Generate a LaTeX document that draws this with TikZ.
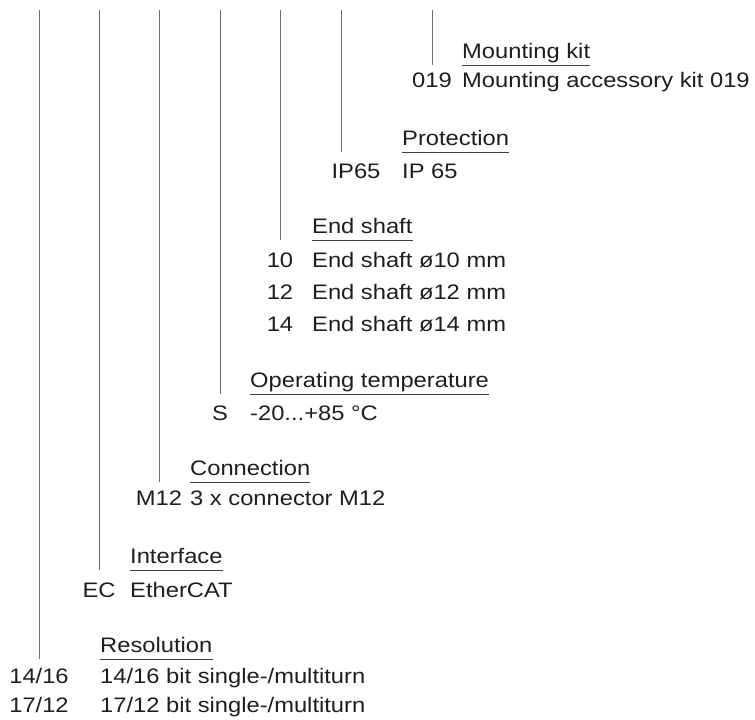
\documentclass[tikz,border=0pt]{standalone}
\usepackage{fontspec}
\setmainfont{Liberation Sans}[FakeStretch=1.13]
\usepackage{xcolor}
\definecolor{leadgray}{RGB}{110,110,110}
\definecolor{rulegray}{RGB}{60,60,60}
\definecolor{textdark}{RGB}{30,30,30}
\usetikzlibrary{positioning}
\tikzset{
  head/.style={anchor=base west, inner sep=0pt, text depth=7pt, text=textdark},
  desc/.style={anchor=base west, inner sep=0pt, text=textdark},
  code/.style={anchor=base, inner sep=0pt, text=textdark},
  lead/.style={draw=leadgray, line width=0.9pt},
  hrule/.style={draw=rulegray, line width=0.9pt}
}
\begin{document}
\begin{tikzpicture}[x=1pt, y=-1pt, font=\fontsize{21}{25}\selectfont]
  \useasboundingbox (0,0) rectangle (755,720);
  % tops of the lead lines
  \coordinate (tres) at (39,10);
  \coordinate (tint) at (99,10);
  \coordinate (tcon) at (159,10);
  \coordinate (ttmp) at (220,10);
  \coordinate (tsft) at (280,10);
  \coordinate (tprt) at (341,10);
  \coordinate (tkit) at (432,10);
  % Mounting kit
  \node[head] (kit) at (462,58) {Mounting kit};
  \node[code] (kitc) at (432,87) {019};
  \node[desc] (kitd) at (462,87) {Mounting accessory kit 019};
  % Protection
  \node[head] (prt) at (402,145) {Protection};
  \node[code] (prtc) at (356,178) {IP65};
  \node[desc] (prtd) at (402,178) {IP 65};
  % End shaft
  \node[head] (sft) at (312,233) {End shaft};
  \node[code] (sftc1) at (280,267) {10};
  \node[desc] (sftd1) at (312,267) {End shaft ø10 mm};
  \node[code] (sftc2) at (280,299) {12};
  \node[desc] (sftd2) at (312,299) {End shaft ø12 mm};
  \node[code] (sftc3) at (280,331) {14};
  \node[desc] (sftd3) at (312,331) {End shaft ø14 mm};
  % Operating temperature
  \node[head] (tmp) at (250,387) {Operating temperature};
  \node[code] (tmpc) at (220,420) {S};
  \node[desc] (tmpd) at (250,420) {-20...+85 °C};
  % Connection
  \node[head] (con) at (190,475) {Connection};
  \node[code] (conc) at (159,505) {M12};
  \node[desc] (cond) at (190,505) {3 x connector M12};
  % Interface
  \node[head] (int) at (130,563) {Interface};
  \node[code] (intc) at (99,597) {EC};
  \node[desc] (intd) at (130,597) {EtherCAT};
  % Resolution
  \node[head] (res) at (100,652) {Resolution};
  \node[code] (resc1) at (39,683) {14/16};
  \node[desc] (resd1) at (100,683) {14/16 bit single-/multiturn};
  \node[code] (resc2) at (39,712) {17/12};
  \node[desc] (resd2) at (100,712) {17/12 bit single-/multiturn};
  % underlines
  \foreach \h in {kit,prt,sft,tmp,con,int,res}
    \draw[hrule] (\h.south west) -- (\h.south east);
  % lead lines
  \draw[lead] (tkit) -- (tkit |- kit.south);
  \draw[lead] (tprt) -- (tprt |- prt.south);
  \draw[lead] (tsft) -- (tsft |- sft.south);
  \draw[lead] (ttmp) -- (ttmp |- tmp.south);
  \draw[lead] (tcon) -- (tcon |- con.south);
  \draw[lead] (tint) -- (tint |- int.south);
  \draw[lead] (tres) -- (tres |- res.south);
\end{tikzpicture}
\end{document}
